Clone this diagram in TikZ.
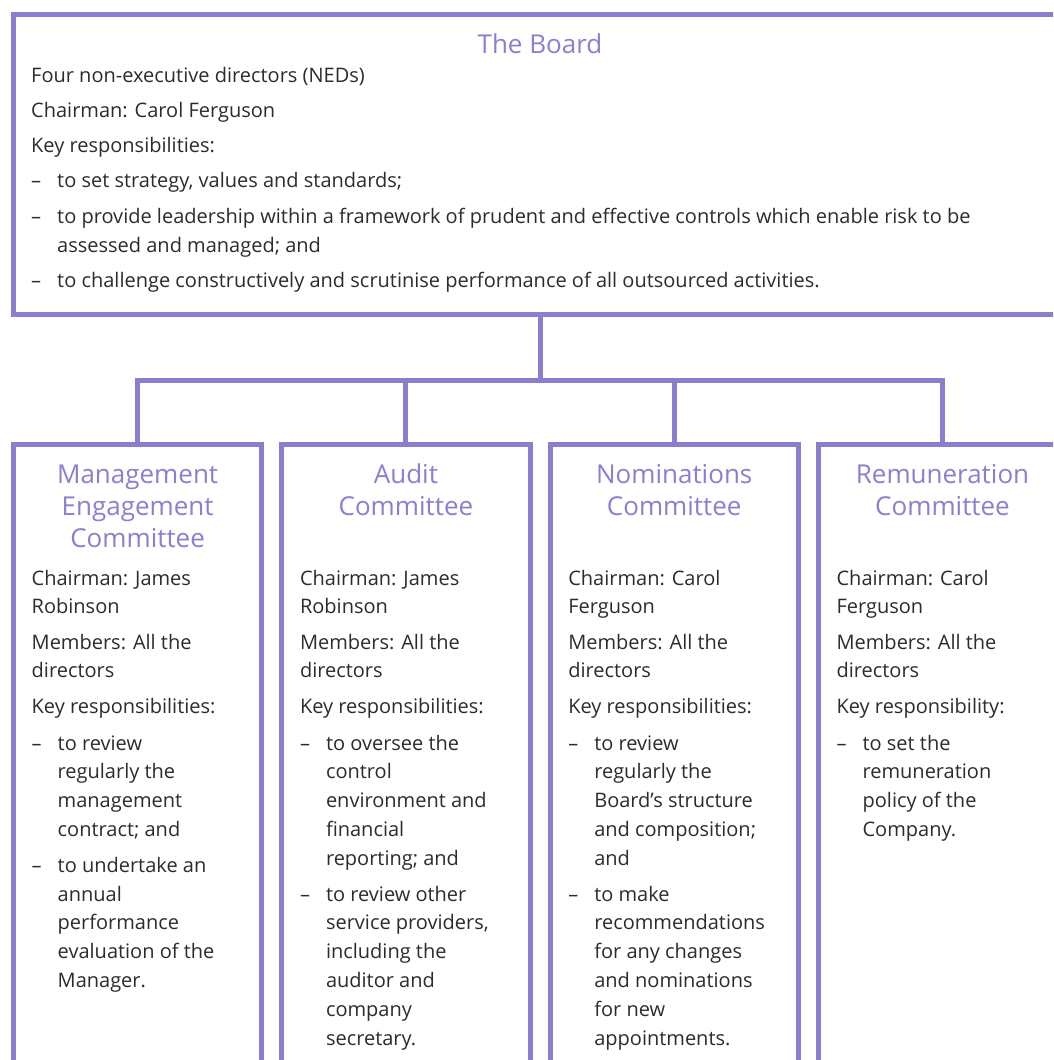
\documentclass[tikz,border=0pt]{standalone}
\usepackage{fontspec}
\setmainfont{Open Sans}
\definecolor{lineviolet}{HTML}{8A7ECE}
\definecolor{titleviolet}{HTML}{8A7FD0}
\definecolor{bodygray}{HTML}{2C2C2C}
\newcommand\dashit{\makebox[26pt][l]{–}}
\newcommand\bcont{\hspace*{26pt}}
\tikzset{
  frame/.style={draw=lineviolet, line width=5pt, inner sep=0pt, outer sep=0pt, rectangle, line join=miter},
  conn/.style={draw=lineviolet, line width=5pt, line join=miter},
  body/.style={anchor=base west, inner sep=0pt, text=bodygray, font=\fontsize{20}{28.8}\selectfont},
  titletext/.style={anchor=base, inner sep=0pt, text=titleviolet, font=\fontsize{26}{32}\selectfont},
}
\begin{document}
\begin{tikzpicture}[x=1pt,y=1pt]
\useasboundingbox[fill=white] (0,0) rectangle (1053,-1060);
\clip (0,0) rectangle (1053,-1060);

% boxes
\node[frame, minimum width=1053pt, minimum height=300pt, anchor=north west] (board) at (13.5,-14) {};
\node[frame, minimum width=248.2pt, minimum height=700pt, anchor=north west] (c1) at (13.5,-444) {};
\node[frame, minimum width=248.2pt, minimum height=700pt, anchor=north west] (c2) at (281.8,-444) {};
\node[frame, minimum width=248.2pt, minimum height=700pt, anchor=north west] (c3) at (550.1,-444) {};
\node[frame, minimum width=248.2pt, minimum height=700pt, anchor=north west] (c4) at (818.4,-444) {};

% connectors
\coordinate (bus) at (540,-380);
\draw[conn] (board.south) -- (bus);
\draw[conn] (c1.north) |- (bus) -| (c4.north);
\draw[conn] (c2.north) -- (c2.north |- bus);
\draw[conn] (c3.north) -- (c3.north |- bus);

% board text
\node[titletext] (boardtitle) at (540,-53.3) {The Board};
\node[body] (boardbody) at (31,-82) {\begin{tabular}[t]{@{}l@{}}
Four non-executive directors (NEDs)\\[6.5pt]
Chairman: Carol Ferguson\\[6.5pt]
Key responsibilities:\\[6.5pt]
\dashit to set strategy, values and standards;\\[6.5pt]
\dashit to provide leadership within a framework of prudent and effective controls which enable risk to be\\
\bcont assessed and managed; and\\[6.5pt]
\dashit to challenge constructively and scrutinise performance of all outsourced activities.
\end{tabular}};

% committee 1
\node[titletext] (t1) at (137.6,-483) {\begin{tabular}[t]{@{}c@{}}Management\\Engagement\\Committee\end{tabular}};
\node[body] (b1) at (31.5,-585) {\begin{tabular}[t]{@{}l@{}}
Chairman: James\\
Robinson\\[6.5pt]
Members: All the\\
directors\\[6.5pt]
Key responsibilities:\\[8pt]
\dashit to review\\
\bcont regularly the\\
\bcont management\\
\bcont contract; and\\[7pt]
\dashit to undertake an\\
\bcont annual\\
\bcont performance\\
\bcont evaluation of the\\
\bcont Manager.
\end{tabular}};

% committee 2
\node[titletext] (t2) at (405.9,-483) {\begin{tabular}[t]{@{}c@{}}Audit\\Committee\end{tabular}};
\node[body] (b2) at (299.8,-585) {\begin{tabular}[t]{@{}l@{}}
Chairman: James\\
Robinson\\[6.5pt]
Members: All the\\
directors\\[6.5pt]
Key responsibilities:\\[8pt]
\dashit to oversee the\\
\bcont control\\
\bcont environment and\\
\bcont financial\\
\bcont reporting; and\\[7pt]
\dashit to review other\\
\bcont service providers,\\
\bcont including the\\
\bcont auditor and\\
\bcont company\\
\bcont secretary.
\end{tabular}};

% committee 3
\node[titletext] (t3) at (674.2,-483) {\begin{tabular}[t]{@{}c@{}}Nominations\\Committee\end{tabular}};
\node[body] (b3) at (568.1,-585) {\begin{tabular}[t]{@{}l@{}}
Chairman: Carol\\
Ferguson\\[6.5pt]
Members: All the\\
directors\\[6.5pt]
Key responsibilities:\\[8pt]
\dashit to review\\
\bcont regularly the\\
\bcont Board’s structure\\
\bcont and composition;\\
\bcont and\\[7pt]
\dashit to make\\
\bcont recommendations\\
\bcont for any changes\\
\bcont and nominations\\
\bcont for new\\
\bcont appointments.
\end{tabular}};

% committee 4
\node[titletext] (t4) at (942.5,-483) {\begin{tabular}[t]{@{}c@{}}Remuneration\\Committee\end{tabular}};
\node[body] (b4) at (836.4,-585) {\begin{tabular}[t]{@{}l@{}}
Chairman: Carol\\
Ferguson\\[6.5pt]
Members: All the\\
directors\\[6.5pt]
Key responsibility:\\[8pt]
\dashit to set the\\
\bcont remuneration\\
\bcont policy of the\\
\bcont Company.
\end{tabular}};
\end{tikzpicture}
\end{document}
